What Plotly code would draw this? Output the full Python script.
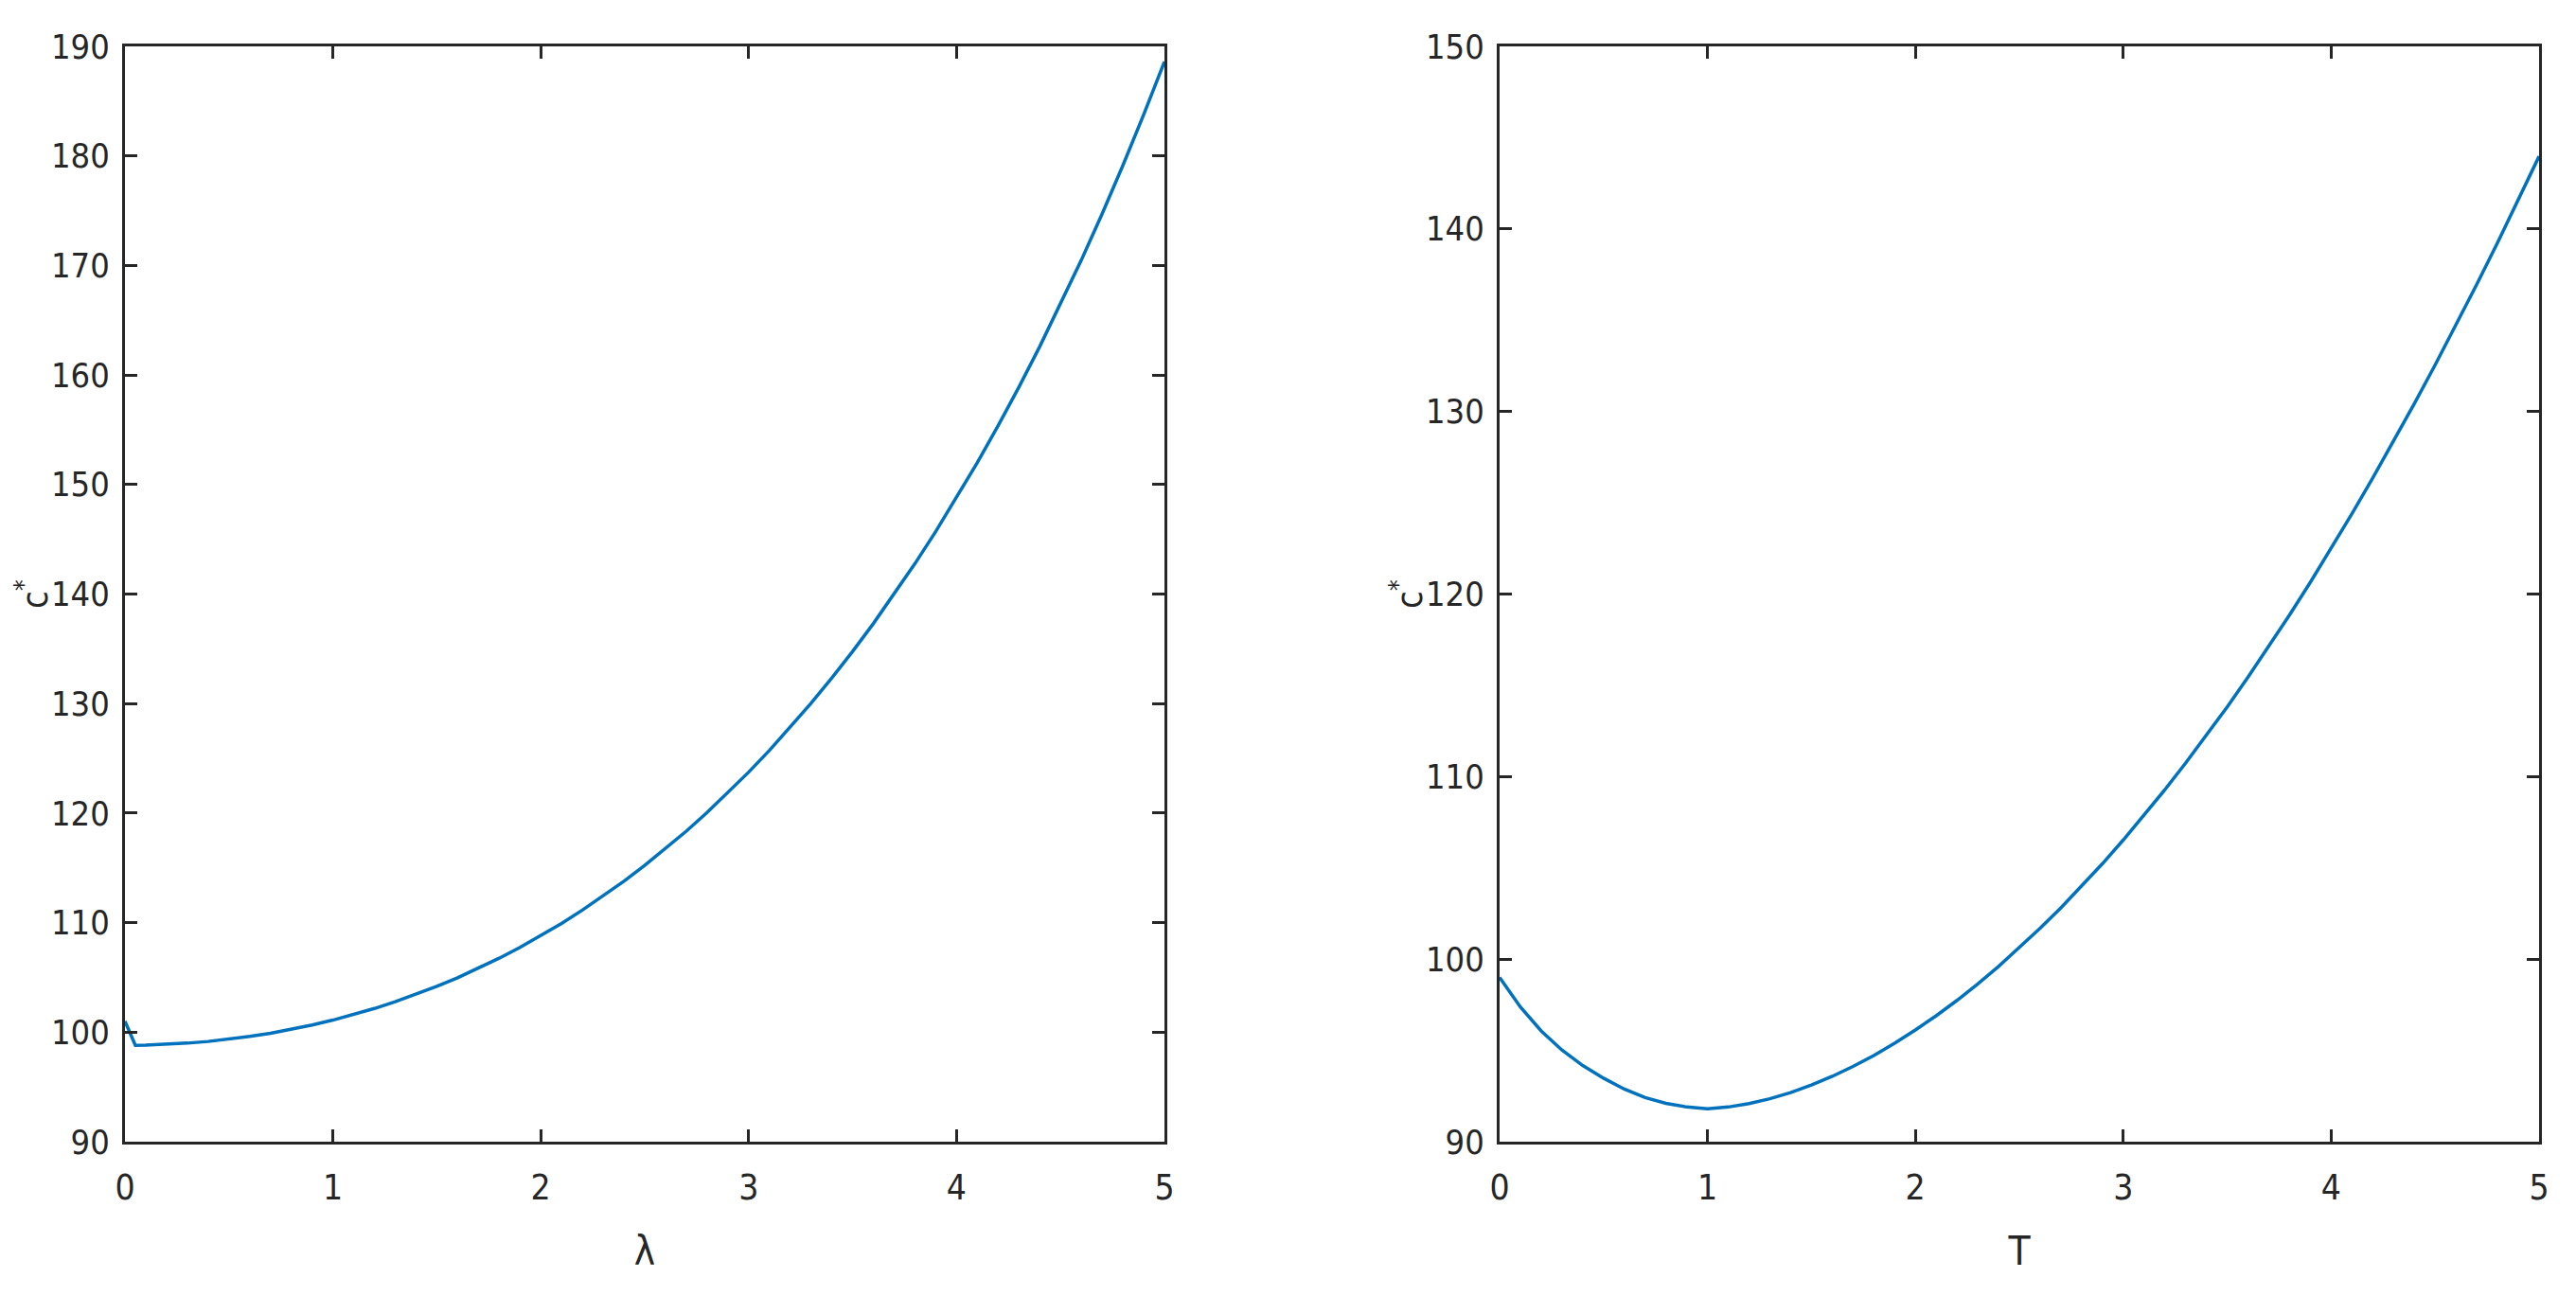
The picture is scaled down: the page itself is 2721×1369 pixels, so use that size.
import plotly.graph_objects as go

# ---- data ----
lam = [0.0, 0.05] + [round(0.1 * i, 1) for i in range(1, 51)]
c_lam = [101.0, 98.80, 98.82, 98.89, 99.00, 99.15, 99.36, 99.61, 99.90, 100.25, 100.65,
         101.10, 101.60, 102.16, 102.78, 103.45, 104.18, 104.97, 105.83, 106.75, 107.74,
         108.80, 109.93, 111.14, 112.42, 113.78, 115.22, 116.74, 118.35, 120.05, 121.85,
         123.74, 125.73, 127.82, 130.02, 132.34, 134.76, 137.31, 139.98, 142.78, 145.71,
         148.79, 152.00, 155.37, 158.90, 162.59, 166.45, 170.48, 174.71, 179.13, 183.76,
         188.60]

T = [round(0.1 * i, 1) for i in range(0, 51)]
c_T = [99.00, 97.38, 96.07, 95.02, 94.17, 93.48, 92.88, 92.42, 92.10, 91.90,
       91.80, 91.90, 92.09, 92.35, 92.69, 93.10, 93.58, 94.12, 94.72, 95.39,
       96.12, 96.90, 97.74, 98.64, 99.60, 100.62, 101.69, 102.81, 104.00, 105.23,
       106.53, 107.88, 109.28, 110.74, 112.25, 113.82, 115.45, 117.13, 118.86, 120.65,
       122.50, 124.40, 126.36, 128.37, 130.43, 132.55, 134.73, 136.96, 139.24, 141.58,
       143.98]

x_ticks = [0, 1, 2, 3, 4, 5]
y_ticks_left = [90, 100, 110, 120, 130, 140, 150, 160, 170, 180, 190]
y_ticks_right = [90, 100, 110, 120, 130, 140, 150]

# ---- styling ----
LINE = "#0072BD"
AX = "#262626"
FONT = "Noto Sans ExtraCondensed, Noto Sans Condensed, DejaVu Sans Condensed, sans-serif"
W, H = 2721, 1369
OFF = 8  # page body margin offset

def px(xr):
    return (xr - OFF) / W

def py(yr):
    return (H + OFF - yr) / H

fig = go.Figure()
fig.add_trace(go.Scatter(x=lam, y=c_lam, mode="lines", line=dict(color=LINE, width=3.5),
                         xaxis="x", yaxis="y", showlegend=False))
fig.add_trace(go.Scatter(x=T, y=c_T, mode="lines", line=dict(color=LINE, width=3.5),
                         xaxis="x2", yaxis="y2", showlegend=False))

ydom = [py(1206), py(49)]

def xaxis(dom, title, anchor):
    return dict(domain=dom, range=[0, 5], tickvals=x_ticks, ticktext=[str(v) for v in x_ticks],
                showline=True, linecolor=AX, linewidth=3, mirror="ticks",
                ticks="inside", ticklen=13, tickwidth=3, tickcolor=AX,
                showgrid=False, zeroline=False, anchor=anchor,
                tickfont=dict(family=FONT, size=37, color=AX),
                ticklabelstandoff=14,
                title=dict(text=title, font=dict(family=FONT, size=42, color=AX), standoff=32),
                automargin=False, fixedrange=True)

def yaxis(rng, ticks, anchor):
    return dict(domain=ydom, range=rng, tickvals=ticks, ticktext=[str(v) for v in ticks],
                showline=True, linecolor=AX, linewidth=3, mirror="ticks",
                ticks="inside", ticklen=13, tickwidth=3, tickcolor=AX,
                showgrid=False, zeroline=False, anchor=anchor,
                tickfont=dict(family=FONT, size=36, color=AX),
                ticklabelstandoff=6,
                automargin=False, fixedrange=True)

ann = []
for xc in (132 - 98, 1584 - 98):
    ann.append(dict(text="c<sup>*</sup>", x=px(xc), y=py(628), xref="paper", yref="paper",
                    xanchor="center", yanchor="middle", textangle=-90, showarrow=False,
                    borderpad=0, font=dict(family=FONT, size=38, color=AX)))

fig.update_layout(
    width=W, height=H,
    margin=dict(l=0, r=0, t=0, b=0),
    paper_bgcolor="white", plot_bgcolor="white",
    xaxis=xaxis([px(132), px(1230)], "λ", "y"),
    yaxis=yaxis([90, 190], y_ticks_left, "x"),
    xaxis2=xaxis([px(1584), px(2682)], "T", "y2"),
    yaxis2=yaxis([90, 150], y_ticks_right, "x2"),
    annotations=ann,
)

fig.write_html("out.html")
